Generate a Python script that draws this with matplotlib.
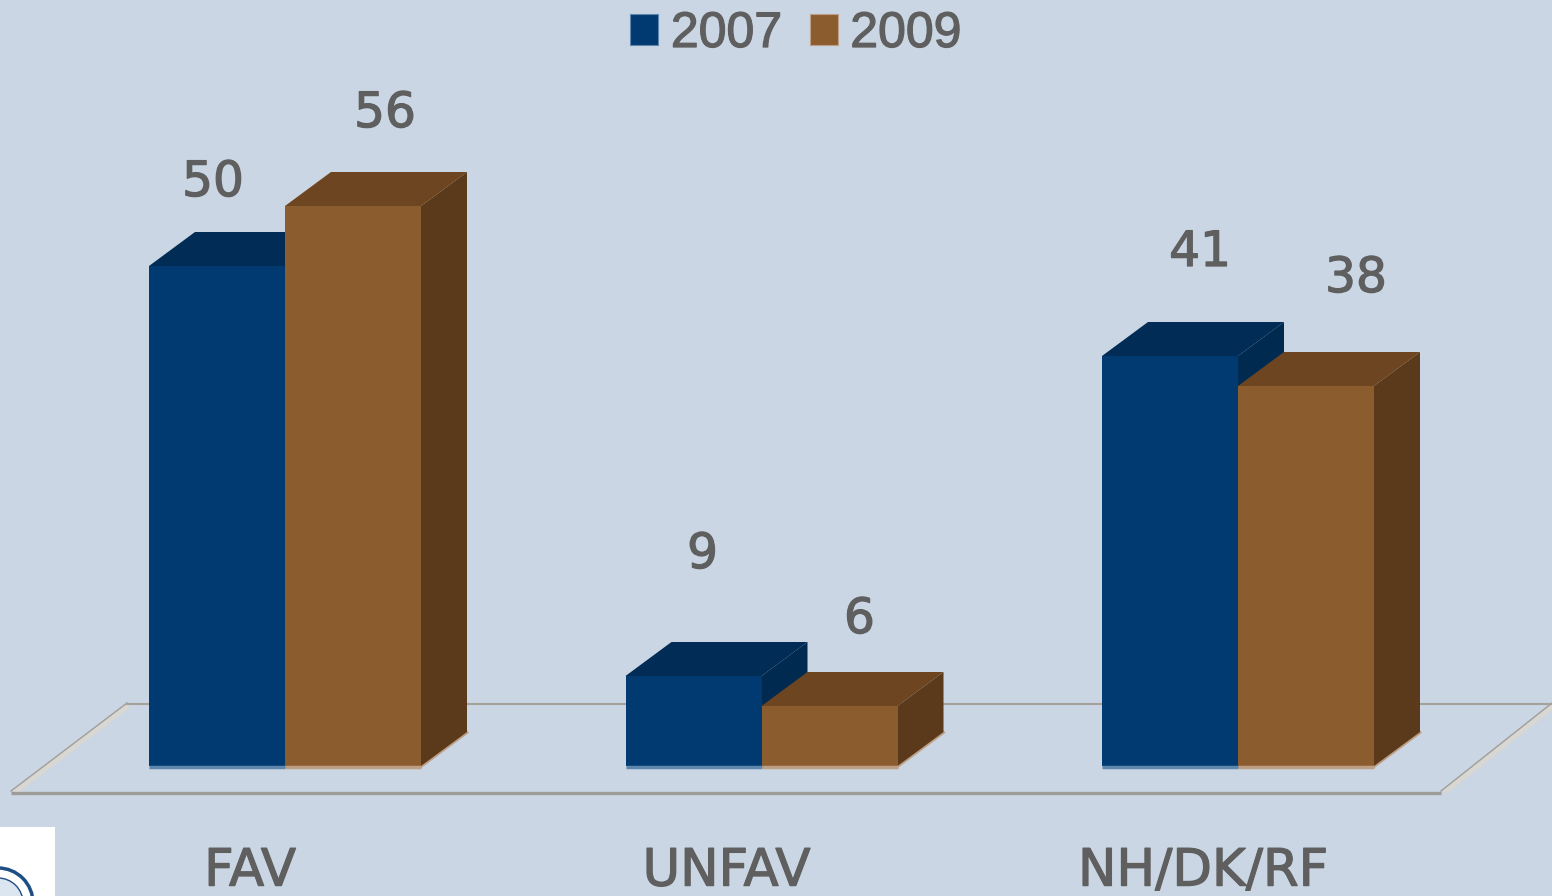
import matplotlib
matplotlib.use('Agg')
import matplotlib.pyplot as plt
import matplotlib.patheffects as pe
from matplotlib.patches import Patch, Polygon, Circle

categories = ['FAV', 'UNFAV', 'NH/DK/RF']
years = ['2007', '2009']
values_2007 = [50, 9, 41]
values_2009 = [56, 6, 38]

BG = '#CAD6E3'
TXT = '#5F5F5F'
front = ['#003A70', '#8B5C2E']
top = ['#002C55', '#6D4520']
side = ['#002A50', '#5A3A1A']
edge = ['#5F86AC', '#BC9F84']

W, H = 1552, 896
UX = 476.5  # пикселей на одну категорию
UY = 10.0   # пикселей на единицу значения
bar_w = 136 / UX
dx = 46 / UX
dy = 3.4

plt.rcParams['font.family'] = ['DejaVu Sans']
bold_fx = [pe.withStroke(linewidth=0.9, foreground=TXT)]

fig = plt.figure(figsize=(W / 100, H / 100), dpi=100, facecolor=BG)
ax = fig.add_axes([0, 73 / H, 1, 823 / H])
ax.set_facecolor(BG)
ax.set_xlim(-285 / UX, (W - 285) / UX)
ax.set_ylim(-5.7, 76.6)
for s in ax.spines.values():
    s.set_visible(False)
ax.set_yticks([])

# Пол диаграммы
floor_y_back = 6.2
floor_y_front = -2.7
x_fl = -274 / UX
x_bl = -158 / UX
x_fr = 1156 / UX
x_br = 1267 / UX
for xa, xb in [(x_fl, x_bl), (x_fr, x_br)]:
    ax.plot([xa + 3 / UX, xb + 1 / UX], [floor_y_front + 0.1, floor_y_back - 0.15], color='#D8D7D3', lw=4.5,
            zorder=1, solid_capstyle='butt')
    ax.plot([xa, xb], [floor_y_front + 0.2, floor_y_back + 0.1], color='#A09E9A', lw=1, zorder=1.1)
ax.plot([x_bl, x_br], [floor_y_back, floor_y_back], color='#A5A19B', lw=1.5, zorder=1.1)
ax.plot([x_fl, x_fr], [floor_y_front, floor_y_front], color='#9E9C99', lw=2.4, zorder=1.2,
        solid_capstyle='butt')

# Столбцы: сначала 2007, затем 2009 перекрывает боковую грань
for j, vals in enumerate([values_2007, values_2009]):
    z = 2 + j
    for i, v in enumerate(vals):
        x0 = i + (j - 1) * bar_w
        x1 = x0 + bar_w
        ax.add_patch(Polygon([(x1, 0), (x1 + dx, dy), (x1 + dx, v + dy), (x1, v)],
                             closed=True, facecolor=side[j], edgecolor='none', zorder=z))
        ax.add_patch(Polygon([(x0, v), (x0 + dx, v + dy), (x1 + dx, v + dy), (x1, v)],
                             closed=True, facecolor=top[j], edgecolor='none', zorder=z))
        ax.plot([x1, x1 + dx], [-0.05, dy - 0.05], color=edge[j], lw=2, zorder=z - 0.1)
    xs = [i + (j - 1) * bar_w + bar_w / 2 for i in range(len(vals))]
    ax.bar(xs, vals, width=bar_w, color=front[j], linewidth=0, zorder=z + 0.1)
    for x in xs:
        ax.plot([x - bar_w / 2, x + bar_w / 2], [-0.05, -0.05], color=edge[j], lw=2.5, zorder=z + 0.2,
                solid_capstyle='butt')

# Подписи значений: смещения от центра столбца, как на исходнике
label_dx = [[-4, 32], [9, 30], [30, 50]]
label_dy = [[8.4, 9.3], [12.2, 8.7], [10.4, 10.8]]
for j, vals in enumerate([values_2007, values_2009]):
    for i, v in enumerate(vals):
        xc = i + (j - 1) * bar_w + bar_w / 2 + label_dx[i][j] / UX
        ax.text(xc, v + label_dy[i][j], str(v), ha='center', va='center', fontsize=35, color=TXT,
                path_effects=bold_fx)

ax.set_xticks([i - 35 / UX for i in range(len(categories))])
ax.set_xticklabels(categories, fontsize=37, color=TXT, path_effects=bold_fx)
ax.tick_params(axis='x', length=0, pad=17)

handles = [Patch(facecolor=front[k], edgecolor=edge[k], linewidth=0.8, label=years[k]) for k in range(2)]
leg = ax.legend(handles=handles, ncol=2, loc='upper center', bbox_to_anchor=(796 / W, 1 - 11 / H),
                bbox_transform=fig.transFigure, frameon=False, handlelength=0.56, handleheight=0.56,
                handletextpad=0.25, columnspacing=0.55, borderpad=0, borderaxespad=0, labelcolor=TXT,
                prop={'family': 'Liberation Sans', 'size': 36})
for t in leg.get_texts():
    t.set_path_effects(bold_fx)

# Фрагмент логотипа в левом нижнем углу
logo = fig.add_axes([0, 0, 55 / W, 69 / H])
logo.set_xlim(0, 55)
logo.set_ylim(69, 0)
logo.axis('off')
logo.add_patch(plt.Rectangle((0, 0), 55, 69, facecolor='white', edgecolor='none'))
logo.add_patch(Circle((-2, 76), 35, facecolor='none', edgecolor='#1F4E85', lw=2.5))
logo.add_patch(Circle((-2, 76), 25, facecolor='#DCE6F0', edgecolor='#1F4E85', lw=1))

fig.savefig('out.png', dpi=100, facecolor=BG)
